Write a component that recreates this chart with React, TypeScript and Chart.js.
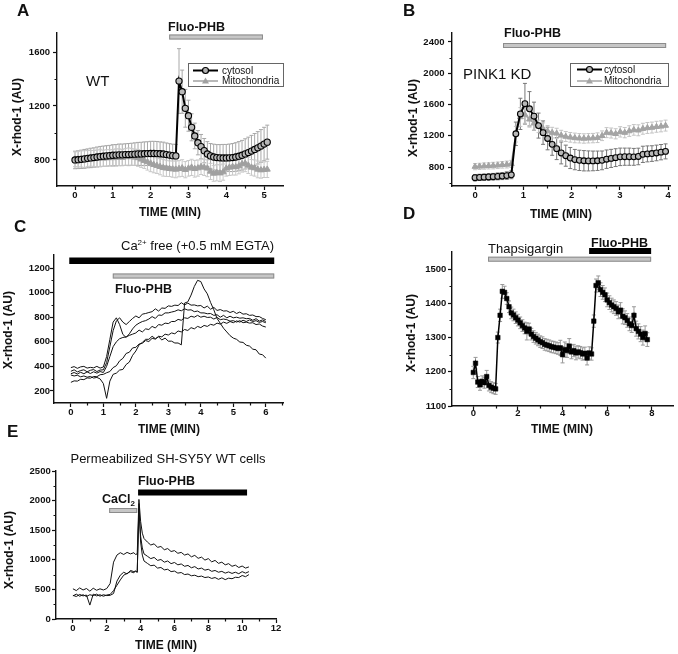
import React, { useEffect, useRef } from 'react';
import { Chart, registerables } from 'chart.js';

Chart.register(...registerables);

const FONT = "'Liberation Sans', Arial, Helvetica, sans-serif";
const INK = '#111111';
const BAR_GRAY = '#c6c6c6';
const BAR_EDGE = '#8c8c8c';

// ---------------- Panel A (WT) ----------------
const A_DT = 1 / 12; // min between samples
const A_CYTO = [800, 802, 805, 808, 812, 815, 818, 822, 825, 828, 830, 832, 835, 836, 838, 838, 840, 840, 842, 843, 845, 845, 846, 847, 848, 848, 847, 846, 844, 840, 836, 832, 830, 1385, 1306, 1183, 1128, 1042, 978, 928, 899, 869, 844, 830, 822, 818, 816, 815, 815, 816, 818, 822, 828, 835, 845, 855, 866, 878, 890, 903, 918, 932];
const A_CYTO_ERR = [65, 66, 68, 70, 70, 72, 72, 74, 75, 75, 76, 76, 78, 78, 80, 80, 80, 82, 82, 84, 85, 86, 88, 88, 90, 90, 90, 88, 88, 86, 85, 85, 85, 240, 160, 140, 115, 100, 95, 90, 90, 90, 92, 92, 95, 96, 98, 100, 100, 102, 104, 106, 108, 110, 112, 114, 116, 118, 120, 122, 124, 126];
const A_MITO = [805, 806, 808, 806, 810, 812, 810, 812, 815, 812, 814, 816, 815, 818, 820, 818, 822, 825, 822, 820, 815, 805, 795, 785, 775, 765, 758, 750, 742, 738, 735, 732, 730, 735, 740, 728, 738, 745, 735, 740, 750, 745, 738, 715, 700, 705, 702, 710, 738, 745, 750, 748, 755, 770, 775, 760, 745, 740, 730, 725, 728, 730];
const A_MITO_ERR = [55, 58, 60, 62, 60, 58, 60, 62, 64, 60, 62, 60, 62, 64, 62, 60, 62, 64, 62, 60, 62, 60, 58, 60, 62, 60, 58, 60, 62, 60, 58, 60, 62, 60, 62, 60, 58, 60, 62, 60, 58, 60, 62, 60, 58, 60, 62, 60, 58, 60, 62, 60, 58, 60, 62, 60, 58, 60, 62, 60, 58, 60];
const A_STIM = [2.49, 4.97];
const A_XTICKS = [0, 1, 2, 3, 4, 5];
const A_YTICKS = [800, 1200, 1600];

// ---------------- Panel B (PINK1 KD) ----------------
const B_DT = 0.094;
const B_CYTO = [663, 667, 670, 673, 676, 680, 684, 690, 700, 1225, 1480, 1610, 1545, 1450, 1330, 1240, 1165, 1090, 1035, 980, 945, 915, 895, 885, 880, 878, 878, 880, 885, 900, 910, 920, 930, 932, 932, 930, 935, 962, 968, 972, 980, 990, 1000];
const B_CYTO_ERR = [40, 40, 40, 42, 42, 44, 45, 48, 50, 150, 200, 260, 220, 180, 160, 150, 145, 140, 140, 140, 135, 135, 130, 130, 130, 128, 126, 124, 120, 118, 116, 114, 112, 110, 110, 108, 106, 104, 102, 100, 100, 98, 96];
const B_MITO = [805, 808, 812, 815, 818, 822, 828, 832, 840, 1220, 1440, 1470, 1410, 1360, 1320, 1290, 1260, 1240, 1230, 1205, 1190, 1180, 1172, 1168, 1165, 1168, 1170, 1175, 1200, 1240, 1235, 1225, 1250, 1240, 1260, 1275, 1270, 1290, 1300, 1305, 1315, 1320, 1330];
const B_MITO_ERR = [40, 40, 40, 40, 42, 42, 42, 44, 45, 100, 120, 110, 100, 90, 80, 75, 70, 68, 66, 65, 64, 62, 62, 60, 60, 60, 60, 62, 62, 64, 64, 65, 66, 66, 68, 68, 70, 70, 70, 70, 70, 70, 70];
const B_STIM = [0.58, 3.96];
const B_XTICKS = [0, 1, 2, 3, 4];
const B_YTICKS = [800, 1200, 1600, 2000, 2400];

// ---------------- Panel C (Ca2+ free) ----------------
const C_DT = 0.1;
const C_TRACE1 = [360, 372, 355, 366, 372, 356, 368, 374, 358, 370, 372, 430, 560, 690, 770, 795, 760, 740, 765, 790, 810, 795, 825, 830, 838, 845, 868, 850, 875, 872, 892, 888, 898, 895, 918, 900, 915, 898, 900, 892, 895, 875, 890, 865, 880, 855, 862, 850, 852, 838, 848, 830, 842, 825, 828, 815, 818, 805, 805, 790, 780];
const C_TRACE2 = [390, 398, 384, 396, 400, 386, 392, 388, 400, 386, 395, 480, 620, 760, 795, 740, 660, 635, 665, 705, 735, 752, 765, 772, 785, 805, 790, 818, 815, 835, 835, 842, 848, 860, 852, 868, 858, 860, 845, 850, 835, 835, 828, 830, 815, 820, 800, 815, 795, 808, 795, 800, 792, 795, 788, 790, 775, 788, 768, 778, 765];
const C_TRACE3 = [340, 350, 338, 352, 340, 355, 342, 356, 345, 358, 350, 400, 480, 560, 600, 625, 635, 640, 652, 662, 672, 695, 680, 705, 700, 725, 712, 740, 735, 752, 748, 765, 765, 782, 775, 795, 790, 808, 800, 815, 800, 808, 798, 800, 785, 798, 780, 785, 780, 768, 772, 760, 772, 755, 760, 752, 755, 740, 745, 728, 720];
const C_TRACE4 = [270, 282, 280, 295, 292, 306, 304, 318, 316, 332, 335, 348, 358, 390, 405, 445, 465, 505, 515, 550, 555, 582, 588, 610, 602, 628, 622, 645, 640, 662, 655, 672, 665, 688, 680, 700, 692, 715, 705, 725, 715, 733, 725, 742, 735, 752, 744, 760, 750, 765, 755, 770, 760, 775, 765, 778, 765, 772, 758, 765, 755];
const C_TRACE5 = [330, 322, 328, 315, 322, 312, 318, 305, 310, 298, 260, 140, 280, 335, 345, 370, 375, 415, 435, 490, 525, 575, 595, 620, 620, 645, 625, 640, 615, 630, 605, 605, 590, 590, 575, 915, 925, 980, 1050, 1100, 1090, 1030, 990, 920, 860, 790, 750, 710, 680, 650, 630, 620, 598, 595, 572, 565, 540, 535, 500, 495, 467];
const C_STIM_EGTA = [-0.05, 6.26];
const C_STIM_PHB = [1.29, 6.26];
const C_XTICKS = [0, 1, 2, 3, 4, 5, 6];
const C_YTICKS = [200, 400, 600, 800, 1000, 1200];

// ---------------- Panel D (Thapsigargin) ----------------
const D_DT = 0.1;
const D_VALS = [1198, 1225, 1170, 1162, 1172, 1168, 1186, 1160, 1155, 1152, 1150, 1300, 1365, 1435, 1432, 1414, 1390, 1372, 1366, 1358, 1351, 1343, 1335, 1328, 1318, 1325, 1310, 1303, 1298, 1293, 1288, 1285, 1280, 1278, 1276, 1273, 1272, 1270, 1268, 1270, 1250, 1265, 1262, 1275, 1258, 1262, 1255, 1258, 1256, 1252, 1254, 1240, 1255, 1252, 1348, 1452, 1460, 1440, 1432, 1425, 1410, 1402, 1395, 1390, 1385, 1375, 1380, 1362, 1358, 1350, 1340, 1335, 1365, 1326, 1318, 1310, 1300, 1312, 1294];
const D_ERR = [18, 17, 16, 16, 16, 16, 18, 16, 16, 16, 16, 16, 18, 20, 18, 17, 17, 17, 17, 17, 17, 17, 17, 17, 25, 17, 17, 17, 17, 17, 17, 17, 17, 17, 17, 17, 17, 17, 17, 22, 24, 22, 20, 22, 20, 18, 20, 18, 18, 18, 18, 20, 18, 18, 18, 19, 20, 20, 20, 20, 20, 20, 20, 20, 20, 20, 22, 22, 20, 20, 20, 20, 25, 22, 22, 22, 22, 22, 20];
const D_STIM_THAPS = [0.66, 7.97];
const D_STIM_PHB = [5.19, 7.97];
const D_XTICKS = [0, 2, 4, 6, 8];
const D_YTICKS = [1100, 1200, 1300, 1400, 1500];

// ---------------- Panel E (permeabilized) ----------------
const E_TIME = [0, 0.2, 0.4, 0.6, 0.8, 1.0, 1.2, 1.4, 1.6, 1.8, 2.0, 2.2, 2.4, 2.6, 2.8, 3.0, 3.2, 3.4, 3.6, 3.7, 3.8, 3.9, 4.0, 4.1, 4.2, 4.4, 4.6, 4.8, 5.0, 5.2, 5.4, 5.6, 5.8, 6.0, 6.2, 6.4, 6.6, 6.8, 7.0, 7.2, 7.4, 7.6, 7.8, 8.0, 8.2, 8.4, 8.6, 8.8, 9.0, 9.2, 9.4, 9.6, 9.8, 10.0, 10.2, 10.4];
const E_TRACE1 = [510, 480, 525, 490, 515, 470, 520, 485, 510, 490, 515, 600, 960, 1080, 1120, 1090, 1125, 1100, 1120, 1090, 1100, 2020, 1650, 1450, 1360, 1300, 1250, 1270, 1210, 1225, 1170, 1190, 1140, 1155, 1110, 1125, 1080, 1100, 1050, 1075, 1025, 1045, 995, 1020, 965, 990, 940, 960, 915, 935, 890, 910, 870, 895, 860, 880];
const E_TRACE2 = [390, 420, 385, 410, 380, 410, 395, 420, 385, 410, 395, 400, 430, 640, 740, 790, 760, 820, 800, 810, 790, 1850, 1400, 1200, 1100, 1060, 1020, 1040, 990, 1005, 960, 980, 935, 955, 915, 930, 890, 905, 865, 885, 845, 860, 825, 840, 805, 820, 790, 805, 775, 795, 770, 790, 765, 800, 775, 800];
const E_TRACE3 = [400, 380, 415, 390, 405, 235, 420, 390, 410, 385, 405, 415, 480, 570, 660, 740, 770, 800, 780, 810, 790, 1950, 1300, 1080, 980, 940, 900, 910, 860, 870, 830, 840, 800, 810, 775, 785, 750, 760, 730, 740, 715, 725, 700, 710, 685, 700, 670, 695, 665, 690, 680, 705, 700, 735, 715, 750];
const E_STIM_CACL2 = [2.14, 3.8];
const E_STIM_PHB = [3.85, 10.29];
const E_XTICKS = [0, 2, 4, 6, 8, 10, 12];
const E_YTICKS = [0, 500, 1000, 1500, 2000, 2500];

// ---------------- helpers ----------------
const series = (vals: number[], dt: number) => vals.map((v, i) => ({ x: i * dt, y: v }));
const seriesT = (times: number[], vals: number[]) => vals.map((v, i) => ({ x: times[i], y: v }));
const fontStr = (size: number, bold: boolean) => `${bold ? 'bold ' : ''}${size}px ${FONT}`;

function makeDrawer(chart: any, spec: any) {
  const ctx = chart.ctx as CanvasRenderingContext2D;
  const xs = chart.scales.x;
  const ox = spec.canvas.left;
  const oy = spec.canvas.top;
  const cx = (x: number) => x - ox;
  const cy = (y: number) => y - oy;
  const px = (v: number) => xs.getPixelForValue(v);
  return {
    ctx, cx, cy, px,
    text(s: string, x: number, y: number, size: number, bold: boolean, align: CanvasTextAlign = 'left') {
      ctx.save();
      ctx.font = fontStr(size, bold);
      ctx.fillStyle = INK;
      ctx.textAlign = align;
      ctx.textBaseline = 'alphabetic';
      ctx.fillText(s, cx(x), cy(y));
      ctx.restore();
    },
    rich(parts: { t: string; size: number; dy: number }[], x: number, y: number, bold: boolean, align: 'left' | 'right') {
      ctx.save();
      ctx.fillStyle = INK;
      ctx.textBaseline = 'alphabetic';
      ctx.textAlign = 'left';
      let total = 0;
      parts.forEach((p) => { ctx.font = fontStr(p.size, bold); total += ctx.measureText(p.t).width; });
      let xx = align === 'right' ? x - total : x;
      parts.forEach((p) => {
        ctx.font = fontStr(p.size, bold);
        ctx.fillText(p.t, cx(xx), cy(y + p.dy));
        xx += ctx.measureText(p.t).width;
      });
      ctx.restore();
    },
    bar(range: number[], top: number, h: number, fill: string, stroke: string | null) {
      const x0 = px(range[0]);
      const x1 = px(range[1]);
      ctx.save();
      ctx.fillStyle = fill;
      ctx.fillRect(x0, cy(top), x1 - x0, h);
      if (stroke) {
        ctx.strokeStyle = stroke;
        ctx.lineWidth = 1;
        ctx.strokeRect(x0 + 0.5, cy(top) + 0.5, x1 - x0 - 1, h - 1);
      }
      ctx.restore();
    },
    legend(box: number[], rows: any[]) {
      ctx.save();
      ctx.strokeStyle = '#666';
      ctx.lineWidth = 1;
      ctx.strokeRect(cx(box[0]) + 0.5, cy(box[1]) + 0.5, box[2] - box[0], box[3] - box[1]);
      rows.forEach((r) => {
        const y = cy(r.y);
        ctx.strokeStyle = r.color;
        ctx.lineWidth = r.lw;
        ctx.beginPath();
        ctx.moveTo(cx(r.x0), y);
        ctx.lineTo(cx(r.x1), y);
        ctx.stroke();
        const mx = cx((r.x0 + r.x1) / 2);
        ctx.beginPath();
        if (r.marker === 'circle') {
          ctx.arc(mx, y, 3, 0, Math.PI * 2);
          ctx.fillStyle = '#b0b0b0';
          ctx.fill();
          ctx.strokeStyle = '#000';
          ctx.lineWidth = 1.2;
          ctx.stroke();
        } else {
          ctx.moveTo(mx, y - 3.5);
          ctx.lineTo(mx + 3.5, y + 2.5);
          ctx.lineTo(mx - 3.5, y + 2.5);
          ctx.closePath();
          ctx.fillStyle = r.color;
          ctx.fill();
        }
        ctx.font = fontStr(10, false);
        ctx.fillStyle = INK;
        ctx.textAlign = 'left';
        ctx.textBaseline = 'middle';
        ctx.fillText(r.label, cx(r.tx), y + 0.5);
      });
      ctx.restore();
    },
  };
}

function annotPlugin(spec: any) {
  return {
    id: 'annot',
    beforeDatasetsDraw(chart: any) {
      const ctx = chart.ctx;
      const xs = chart.scales.x;
      const ys = chart.scales.y;
      chart.data.datasets.forEach((ds: any) => {
        if (!ds.errs) return;
        ctx.save();
        ctx.strokeStyle = ds.errColor;
        ctx.lineWidth = 1;
        ctx.beginPath();
        ds.data.forEach((p: any, i: number) => {
          const e = ds.errs[i];
          if (!e) return;
          const x = xs.getPixelForValue(p.x);
          const y1 = ys.getPixelForValue(p.y - e);
          const y2 = ys.getPixelForValue(p.y + e);
          ctx.moveTo(x, y1);
          ctx.lineTo(x, y2);
          ctx.moveTo(x - 2, y1);
          ctx.lineTo(x + 2, y1);
          ctx.moveTo(x - 2, y2);
          ctx.lineTo(x + 2, y2);
        });
        ctx.stroke();
        ctx.restore();
      });
    },
    afterDraw(chart: any) {
      const ctx = chart.ctx as CanvasRenderingContext2D;
      const xs = chart.scales.x;
      const ys = chart.scales.y;
      const ar = chart.chartArea;
      ctx.save();
      ctx.strokeStyle = INK;
      ctx.lineWidth = 1.2;
      ctx.beginPath();
      spec.x.minor.forEach((v: number) => {
        const x = Math.round(xs.getPixelForValue(v)) + 0.5;
        ctx.moveTo(x, ar.bottom);
        ctx.lineTo(x, ar.bottom + 2.5);
      });
      spec.y.minor.forEach((v: number) => {
        const y = Math.round(ys.getPixelForValue(v)) + 0.5;
        ctx.moveTo(ar.left - 2.5, y);
        ctx.lineTo(ar.left, y);
      });
      ctx.stroke();
      // axis titles
      ctx.fillStyle = INK;
      ctx.font = fontStr(12, true);
      ctx.textAlign = 'center';
      ctx.textBaseline = 'alphabetic';
      ctx.fillText('TIME (MIN)', spec.xTitle[0] - spec.canvas.left, spec.xTitle[1] - spec.canvas.top);
      ctx.translate(spec.yTitle[0] - spec.canvas.left, spec.yTitle[1] - spec.canvas.top);
      ctx.rotate(-Math.PI / 2);
      ctx.textBaseline = 'middle';
      ctx.fillText('X-rhod-1 (AU)', 0, 0);
      ctx.restore();
      spec.draw(makeDrawer(chart, spec));
    },
  };
}

function createChart(canvas: HTMLCanvasElement, spec: any) {
  const cv = spec.canvas;
  const ar = spec.area;
  const scale = (ax: any, horiz: boolean) => ({
    type: 'linear',
    min: ax.min,
    max: ax.max,
    grid: { display: true, drawOnChartArea: false, drawTicks: true, tickLength: 4, tickWidth: 1.2, tickColor: INK, color: INK },
    border: { display: true, color: INK, width: 1.4 },
    ticks: {
      autoSkip: false,
      maxRotation: 0,
      minRotation: 0,
      padding: horiz ? spec.xPad : spec.yPad,
      color: INK,
      font: { family: FONT, size: 9.5, weight: 'bold' },
      callback: (v: number) => String(v),
    },
    afterBuildTicks: (s: any) => { s.ticks = ax.major.map((v: number) => ({ value: v })); },
    afterFit: (s: any) => {
      if (horiz) s.height = cv.top + cv.height - ar.bottom;
      else s.width = ar.left - cv.left;
    },
  });
  return new Chart(canvas, {
    type: 'line',
    data: { datasets: spec.datasets },
    options: {
      responsive: false,
      animation: false,
      devicePixelRatio: 1,
      events: [],
      layout: { padding: { left: 0, top: ar.top - cv.top, right: cv.left + cv.width - ar.right, bottom: 0 } },
      plugins: { legend: { display: false }, tooltip: { enabled: false } },
      elements: { line: { tension: 0 } },
      scales: { x: scale(spec.x, true), y: scale(spec.y, false) },
    } as any,
    plugins: [annotPlugin(spec)],
  });
}

const traceStyle = { borderColor: INK, borderWidth: 1, pointRadius: 0, fill: false };

const SPECS: any[] = [
  {
    canvas: { left: 0, top: 0, width: 335, height: 225 },
    area: { left: 57, top: 33, right: 283, bottom: 186 },
    x: { min: -0.476, max: 5.5, major: A_XTICKS, minor: [0.5, 1.5, 2.5, 3.5, 4.5] },
    y: { min: 607, max: 1741, major: A_YTICKS, minor: [1000, 1400] },
    xPad: 0, yPad: 3,
    xTitle: [170, 216], yTitle: [18, 117],
    datasets: [
      { label: 'cytosol', data: series(A_CYTO, A_DT), borderColor: '#000', borderWidth: 2, pointStyle: 'circle', pointRadius: 3.1, pointBackgroundColor: '#b8b8b8', pointBorderColor: '#000', pointBorderWidth: 1.1, errs: A_CYTO_ERR, errColor: '#a8a8a8' },
      { label: 'Mitochondria', data: series(A_MITO, A_DT), borderColor: '#a0a0a0', borderWidth: 1.5, pointStyle: 'triangle', pointRadius: 3.5, pointBackgroundColor: '#a0a0a0', pointBorderColor: '#a0a0a0', pointBorderWidth: 1, errs: A_MITO_ERR, errColor: '#c8c8c8' },
    ],
    draw: (d: any) => {
      d.text('A', 17, 16, 17, true);
      d.text('Fluo-PHB', 168, 31, 12.5, true);
      d.bar(A_STIM, 34.5, 5, BAR_GRAY, BAR_EDGE);
      d.text('WT', 86, 86, 15, false);
      d.legend([188, 63, 283, 86], [
        { label: 'cytosol', y: 70.5, x0: 193, x1: 218, tx: 222, color: '#000', lw: 2, marker: 'circle' },
        { label: 'Mitochondria', y: 81, x0: 193, x1: 218, tx: 222, color: '#a0a0a0', lw: 1.5, marker: 'triangle' },
      ]);
    },
  },
  {
    canvas: { left: 335, top: 0, width: 343, height: 225 },
    area: { left: 452, top: 33, right: 670, bottom: 186 },
    x: { min: -0.477, max: 4.04, major: B_XTICKS, minor: [0.5, 1.5, 2.5, 3.5] },
    y: { min: 557, max: 2515, major: B_YTICKS, minor: [600, 1000, 1400, 1800, 2200] },
    xPad: 0, yPad: 3.5,
    xTitle: [561, 218], yTitle: [414, 118],
    datasets: [
      { label: 'cytosol', data: series(B_CYTO, B_DT), borderColor: '#000', borderWidth: 2, pointStyle: 'circle', pointRadius: 2.9, pointBackgroundColor: '#b8b8b8', pointBorderColor: '#000', pointBorderWidth: 1.1, errs: B_CYTO_ERR, errColor: '#777777' },
      { label: 'Mitochondria', data: series(B_MITO, B_DT), borderColor: '#a4a4a4', borderWidth: 1.5, pointStyle: 'triangle', pointRadius: 3.4, pointBackgroundColor: '#a4a4a4', pointBorderColor: '#a4a4a4', pointBorderWidth: 1, errs: B_MITO_ERR, errColor: '#c4c4c4' },
    ],
    draw: (d: any) => {
      d.text('B', 403, 16, 17, true);
      d.text('Fluo-PHB', 504, 37, 12.5, true);
      d.bar(B_STIM, 43, 5, BAR_GRAY, BAR_EDGE);
      d.text('PINK1 KD', 463, 79, 15, false);
      d.legend([570, 63, 668, 86], [
        { label: 'cytosol', y: 69.5, x0: 577, x1: 602, tx: 604, color: '#000', lw: 2, marker: 'circle' },
        { label: 'Mitochondria', y: 81, x0: 577, x1: 602, tx: 604, color: '#a4a4a4', lw: 1.5, marker: 'triangle' },
      ]);
    },
  },
  {
    canvas: { left: 0, top: 215, width: 335, height: 225 },
    area: { left: 54, top: 255, right: 283, bottom: 403 },
    x: { min: -0.52, max: 6.53, major: C_XTICKS, minor: [0.5, 1.5, 2.5, 3.5, 4.5, 5.5, 6.5] },
    y: { min: 102, max: 1306, major: C_YTICKS, minor: [300, 500, 700, 900, 1100] },
    xPad: 0, yPad: 0,
    xTitle: [169, 433], yTitle: [9, 330],
    datasets: [
      { label: 'c1', data: series(C_TRACE1, C_DT), ...traceStyle },
      { label: 'c2', data: series(C_TRACE2, C_DT), ...traceStyle },
      { label: 'c3', data: series(C_TRACE3, C_DT), ...traceStyle },
      { label: 'c4', data: series(C_TRACE4, C_DT), ...traceStyle },
      { label: 'c5', data: series(C_TRACE5, C_DT), ...traceStyle },
    ],
    draw: (d: any) => {
      d.text('C', 14, 232, 17, true);
      d.rich([
        { t: 'Ca', size: 13, dy: 0 },
        { t: '2+', size: 8, dy: -5 },
        { t: ' free (+0.5 mM EGTA)', size: 13, dy: 0 },
      ], 274, 250, false, 'right');
      d.bar(C_STIM_EGTA, 257.5, 6.5, '#000', null);
      d.bar(C_STIM_PHB, 273.5, 5, BAR_GRAY, BAR_EDGE);
      d.text('Fluo-PHB', 115, 293, 12.5, true);
    },
  },
  {
    canvas: { left: 335, top: 205, width: 343, height: 235 },
    area: { left: 452, top: 252, right: 673, bottom: 406 },
    x: { min: -0.955, max: 8.95, major: D_XTICKS, minor: [1, 3, 5, 7] },
    y: { min: 1100, max: 1550, major: D_YTICKS, minor: [1150, 1250, 1350, 1450] },
    xPad: -2, yPad: 1.7,
    xTitle: [562, 433], yTitle: [412, 333],
    datasets: [
      { label: 'd', data: series(D_VALS, D_DT), borderColor: '#000', borderWidth: 1.5, pointStyle: 'rect', pointRadius: 3.2, pointBackgroundColor: '#000', pointBorderColor: '#000', pointBorderWidth: 0.5, errs: D_ERR, errColor: '#999999' },
    ],
    draw: (d: any) => {
      d.text('D', 403, 219, 17, true);
      d.text('Thapsigargin', 488, 253, 13, false);
      d.bar(D_STIM_THAPS, 256.7, 5, BAR_GRAY, BAR_EDGE);
      d.bar(D_STIM_PHB, 248, 6, '#000', null);
      d.text('Fluo-PHB', 591, 247, 12.5, true);
    },
  },
  {
    canvas: { left: 0, top: 425, width: 335, height: 229 },
    area: { left: 56, top: 471, right: 276, bottom: 619 },
    x: { min: -1, max: 12, major: E_XTICKS, minor: [1, 3, 5, 7, 9, 11] },
    y: { min: 0, max: 2500, major: E_YTICKS, minor: [250, 750, 1250, 1750, 2250] },
    xPad: 0, yPad: 1.3,
    xTitle: [166, 649], yTitle: [10, 550],
    datasets: [
      { label: 'e1', data: seriesT(E_TIME, E_TRACE1), ...traceStyle },
      { label: 'e2', data: seriesT(E_TIME, E_TRACE2), ...traceStyle },
      { label: 'e3', data: seriesT(E_TIME, E_TRACE3), ...traceStyle },
    ],
    draw: (d: any) => {
      d.text('E', 7, 437, 17, true);
      d.text('Permeabilized SH-SY5Y WT cells', 168, 463, 13, false, 'center');
      d.text('Fluo-PHB', 138, 485, 12.5, true);
      d.bar(E_STIM_PHB, 489.5, 6, '#000', null);
      d.rich([
        { t: 'CaCl', size: 12.5, dy: 0 },
        { t: '2', size: 8, dy: 3 },
      ], 102, 503, true, 'left');
      d.bar(E_STIM_CACL2, 508, 5, BAR_GRAY, BAR_EDGE);
    },
  },
];

export default function App() {
  const refs = useRef<(HTMLCanvasElement | null)[]>([]);
  useEffect(() => {
    const charts = SPECS.map((s, i) => createChart(refs.current[i] as HTMLCanvasElement, s));
    return () => charts.forEach((c) => c.destroy());
  }, []);
  return (
    <div style={{ position: 'absolute', left: 0, top: 0, width: 678, height: 654, background: '#fff', overflow: 'hidden' }}>
      {SPECS.map((s, i) => (
        <canvas
          key={i}
          ref={(el) => { refs.current[i] = el; }}
          width={s.canvas.width}
          height={s.canvas.height}
          style={{ position: 'absolute', left: s.canvas.left, top: s.canvas.top, width: s.canvas.width, height: s.canvas.height }}
        />
      ))}
    </div>
  );
}
